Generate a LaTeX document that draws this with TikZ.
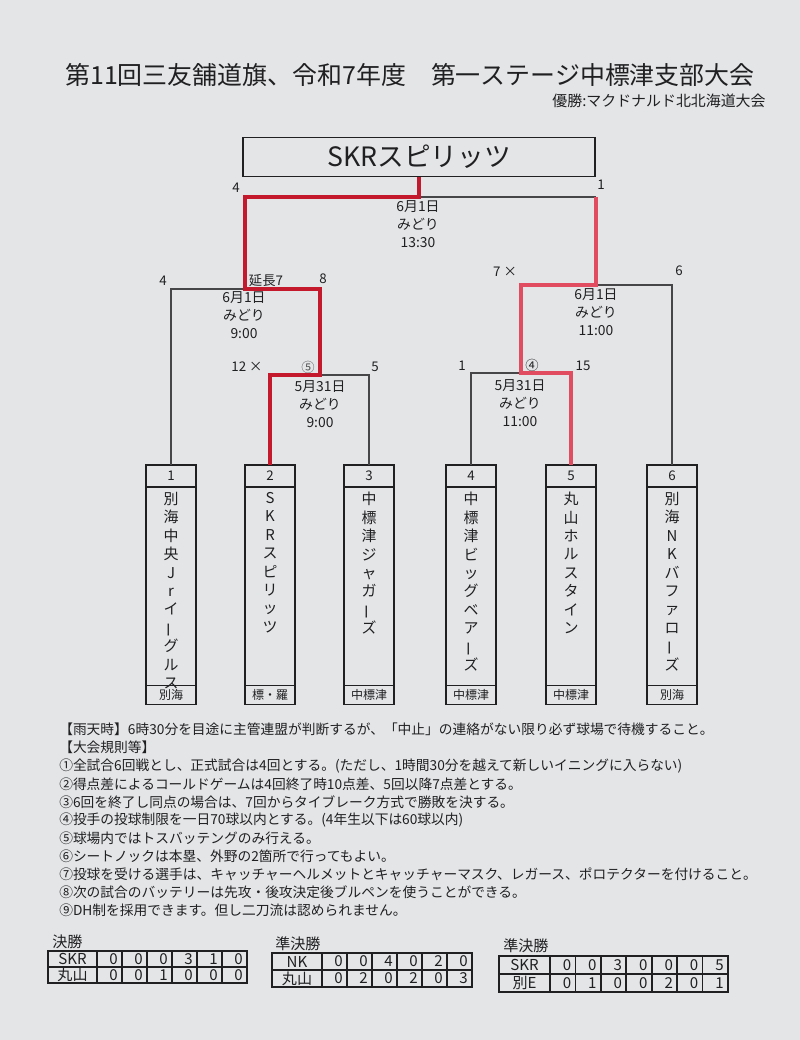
\documentclass[tikz,border=0pt]{standalone}
\usepackage{fontspec}
\setmainfont{Noto Sans CJK JP}
\definecolor{paper}{RGB}{227,229,230}
\definecolor{ink}{RGB}{32,32,34}
\definecolor{gline}{RGB}{70,70,72}
\definecolor{redA}{RGB}{196,24,44}
\definecolor{redB}{RGB}{226,76,96}
\newcommand{\myfs}[1]{\fontsize{#1}{#1}\selectfont}
\newcommand{\tatebar}{\rotatebox[origin=c]{90}{ー}}
\newcommand{\teambox}[4]{%
  \node[numcell] (n#1) at (#2,465) {#1};
  \node[namecell] (t#1) at (n#1.south) {};
  \node[botcell] (b#1) at (t#1.south) {#4};
  \node[vtext] (nm#1) at (#2,492) {#3};
}
\begin{document}
\begin{tikzpicture}[x=0.75pt,y=-0.75pt,
  txt/.style={inner sep=0,text=ink},
  lbl/.style={txt,font=\myfs{10}},
  dt/.style={txt,align=center,font=\fontsize{10.4}{13.4}\selectfont},
  rule/.style={txt,anchor=west,font=\myfs{10.3}},
  numcell/.style={draw=ink,line width=0.8pt,anchor=north,minimum width=37.5pt,minimum height=16.5pt,inner sep=0,outer sep=0,text=ink,font=\myfs{10}},
  namecell/.style={draw=ink,line width=0.8pt,anchor=north,minimum width=37.5pt,minimum height=149pt,inner sep=0,outer sep=0},
  botcell/.style={draw=ink,line width=0.8pt,anchor=north,minimum width=37.5pt,minimum height=14pt,inner sep=0,outer sep=0,text=ink,font=\myfs{9}},
  vtext/.style={txt,anchor=north,align=center,font=\fontsize{11.2}{13.8}\selectfont},
  bline/.style={draw=gline,line width=0.8pt},
  redline/.style={line width=2.6pt,line join=miter},
  tbl/.style={draw=ink,line width=1.2pt},
  tx/.style={txt,font=\myfs{11.3}}
]
\useasboundingbox (0,0) rectangle (800,1040);
\fill[paper] (0,0) rectangle (800,1040);

% title
\node[txt,font=\myfs{18.7}] (title) at (410,75) {第11回三友舗道旗、令和7年度　第一ステージ中標津支部大会};
\node[txt,font=\myfs{11.2}] (sub) at (659,101) {優勝:マクドナルド北北海道大会};

% winner box
\node[draw=ink,line width=0.9pt,minimum width=264pt,minimum height=29pt,inner sep=0,text=ink,font=\myfs{20}] (win) at (419,157) {SKRスピリッツ};

% team boxes
\teambox{1}{171}{別\\海\\中\\央\\J\\r\\イ\\\tatebar\\グ\\ル\\ス}{別海}
\teambox{2}{270}{S\\K\\R\\ス\\ピ\\リ\\ッ\\ツ}{標・羅}
\teambox{3}{369}{中\\標\\津\\ジ\\ャ\\ガ\\\tatebar\\ズ}{中標津}
\teambox{4}{471}{中\\標\\津\\ビ\\ッ\\グ\\ベ\\ア\\\tatebar\\ズ}{中標津}
\teambox{5}{571}{丸\\山\\ホ\\ル\\ス\\タ\\イ\\ン}{中標津}
\teambox{6}{672}{別\\海\\N\\K\\バ\\フ\\ァ\\ロ\\\tatebar\\ズ}{別海}

% junctions
\coordinate (fL) at (245,197);
\coordinate (fM) at (win.south |- fL);
\coordinate (fR) at (596,197);
\coordinate (jL) at (245,289);
\coordinate (jA) at (320,375);
\coordinate (jR) at (596,285);
\coordinate (jB) at (521,373);

% black connectors
\draw[bline] (fM) -- (fR);
\draw[bline] (n1.north) |- (jL);
\draw[bline] (jA) -| (n3.north);
\draw[bline] (jR) -| (n6.north);
\draw[bline] (jB) -| (n4.north);

% red (winner) connectors
\draw[redline,draw=redA] (n2.north) |- (jA) |- (jL) |- (fM) -- (win.south);
\draw[redline,draw=redB] (n5.north) |- (jB) |- (jR) -- (fR);

% score labels
\node[lbl] (s1) at (236,188) {4};
\node[lbl] (s2) at (601,185) {1};
\node[lbl] (s3) at (163,281) {4};
\node[lbl] (s4) at (266,280) {延長7};
\node[lbl] (s5) at (323,279) {8};
\node[lbl] (s6) at (505,272) {7 ×};
\node[lbl] (s7) at (679,271) {6};
\node[lbl] (s8) at (247,367) {12 ×};
\node[lbl,text=ink!75] (s9) at (308,367) {⑤};
\node[lbl] (s10) at (375,367) {5};
\node[lbl] (s11) at (462,366) {1};
\node[lbl] (s12) at (532,365) {④};
\node[lbl] (s13) at (583,366) {15};

% dates
\node[dt] (d1) at (418,224) {6月1日\\みどり\\13:30};
\node[dt] (d2) at (244,315) {6月1日\\みどり\\9:00};
\node[dt] (d3) at (596,312) {6月1日\\みどり\\11:00};
\node[dt] (d4) at (320,404) {5月31日\\みどり\\9:00};
\node[dt] (d5) at (520,403) {5月31日\\みどり\\11:00};

% rules
\node[rule] (r0) at (59,729) {【雨天時】6時30分を目途に主管連盟が判断するが、「中止」の連絡がない限り必ず球場で待機すること。};
\node[rule] (r1) at (59,747) {【大会規則等】};
\node[rule] (r2) at (59,766) {①全試合6回戦とし、正式試合は4回とする。(ただし、1時間30分を越えて新しいイニングに入らない)};
\node[rule] (r3) at (59,784) {②得点差によるコールドゲームは4回終了時10点差、5回以降7点差とする。};
\node[rule] (r4) at (59,802) {③6回を終了し同点の場合は、7回からタイブレーク方式で勝敗を決する。};
\node[rule] (r5) at (59,820) {④投手の投球制限を一日70球以内とする。(4年生以下は60球以内)};
\node[rule] (r6) at (59,838) {⑤球場内ではトスバッテングのみ行える。};
\node[rule] (r7) at (59,856) {⑥シートノックは本塁、外野の2箇所で行ってもよい。};
\node[rule] (r8) at (59,874) {⑦投球を受ける選手は、キャッチャーヘルメットとキャッチャーマスク、レガース、ポロテクターを付けること。};
\node[rule] (r9) at (59,892) {⑧次の試合のバッテリーは先攻・後攻決定後ブルペンを使うことができる。};
\node[rule] (r10) at (59,910) {⑨DH制を採用できます。但し二刀流は認められません。};

% table 1
\node[tx,anchor=west] (T1) at (52,942) {決勝};
\draw[tbl] (48,951) rectangle (247,983);
\draw[tbl] (48,967) -- (247,967);
\foreach \x in {97,122,147,172,197,222} \draw[tbl] (\x,951) -- (\x,983);
\node[tx] at (72.5,959) {SKR};
\node[tx] at (72.5,975) {丸山};
\foreach \v [count=\k] in {0,0,0,3,1,0} \node[tx,anchor=east] at ({97+25*\k-4},959) {\v};
\foreach \v [count=\k] in {0,0,1,0,0,0} \node[tx,anchor=east] at ({97+25*\k-4},975) {\v};

% table 2
\node[tx,anchor=west] (T2) at (275,944) {準決勝};
\draw[tbl] (272,953) rectangle (472,987);
\draw[tbl] (272,970) -- (472,970);
\foreach \x in {322,347,372,397,422,447} \draw[tbl] (\x,953) -- (\x,987);
\node[tx] at (297,961.5) {NK};
\node[tx] at (297,978.5) {丸山};
\foreach \v [count=\k] in {0,0,4,0,2,0} \node[tx,anchor=east] at ({322+25*\k-4},961.5) {\v};
\foreach \v [count=\k] in {0,2,0,2,0,3} \node[tx,anchor=east] at ({322+25*\k-4},978.5) {\v};

% table 3
\node[tx,anchor=west] (T3) at (503,946) {準決勝};
\draw[tbl] (499,956) rectangle (728,992);
\draw[tbl] (499,974) -- (728,974);
\foreach \k in {0,...,6} \draw[tbl] ({550+25.43*\k},956) -- ({550+25.43*\k},992);
\node[tx] at (524.5,965) {SKR};
\node[tx] at (524.5,983) {別E};
\foreach \v [count=\k] in {0,0,3,0,0,0,5} \node[tx,anchor=east] at ({550+25.43*\k-4},965) {\v};
\foreach \v [count=\k] in {0,1,0,0,2,0,1} \node[tx,anchor=east] at ({550+25.43*\k-4},983) {\v};
\end{tikzpicture}
\end{document}
